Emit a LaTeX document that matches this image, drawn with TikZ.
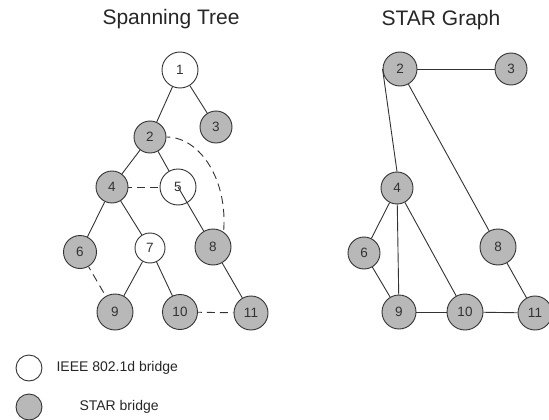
\documentclass[tikz,border=0pt]{standalone}
\usepackage{fontspec}
\setmainfont{Liberation Sans}
\begin{document}
\begin{tikzpicture}[x=1pt,y=-1pt,
  edge/.style={draw=black!80, line width=0.9pt},
  link/.style={edge, dash pattern=on 8pt off 5pt, dash phase=4pt},
  bridge/.style={circle, draw=black!80, line width=0.9pt, fill=white, inner sep=0pt,
    text=black!80, font=\fontsize{13.5}{13.5}\selectfont},
  star/.style={bridge, fill=starfill},
  title/.style={font=\fontsize{21}{21}\selectfont, text=black!85},
  legend/.style={font=\fontsize{14}{14}\selectfont, text=black!85, anchor=west}]
\definecolor{starfill}{RGB}{184,184,184}
\useasboundingbox (0,0) rectangle (549,420);

% titles
\node[title] (t1) at (171,19) {Spanning Tree};
\node[title] (t2) at (441,20) {STAR Graph};

% spanning tree
\node[bridge, minimum size=36pt] (1) at (180,70) {1};
\node[star, minimum size=32pt] (2) at (150,137) {2};
\node[star, minimum size=32pt] (3) at (216,127) {3};
\node[star, minimum size=32pt] (4) at (112,187) {4};
\node[bridge, minimum size=36pt] (5) at (178,187) {5};
\node[star, minimum size=33pt] (6) at (80,252) {6};
\node[bridge, minimum size=30pt] (7) at (150,248) {7};
\node[star, minimum size=36pt] (8) at (213,247) {8};
\node[star, minimum size=36pt] (9) at (115,312) {9};
\node[star, minimum size=35pt] (10) at (180,312) {10};
\node[star, minimum size=34pt] (11) at (251,313) {11};

\draw[edge] (1) -- (2);
\draw[edge] (1) -- (3);
\draw[edge] (2) -- (4);
\draw[edge] (2) -- (5);
\draw[edge] (4) -- (6);
\draw[edge] (4) -- (7);
\draw[edge] (7) -- (9);
\draw[edge] (7) -- (10);
\draw[edge] (8) -- (11);
\draw[edge] (5.center) -- (8);
\draw[link] (4) -- (5);
\draw[link] (6) -- (9);
\draw[link] (10) -- (11);
\draw[link] (2.east) .. controls (200,137) and (228,180) .. (8.55);

% STAR graph
\node[star, minimum size=34pt] (r2) at (400,69) {2};
\node[star, minimum size=32pt] (r3) at (511,69) {3};
\node[star, minimum size=32pt] (r4) at (397,188) {4};
\node[star, minimum size=36pt] (r8) at (498,247) {8};
\node[star, minimum size=32pt] (r6) at (364,253) {6};
\node[star, minimum size=34pt] (r9) at (399,312) {9};
\node[star, minimum size=36pt] (r10) at (465,312) {10};
\node[star, minimum size=34pt] (r11) at (535,313) {11};

\draw[edge] (r2) -- (r3);
\draw[edge] (r2.west) -- (r4.north);
\draw[edge] (r2) -- (r8);
\draw[edge] (r4) -- (r6);
\draw[edge] (r4) -- (r9);
\draw[edge] (r4) -- (r10);
\draw[edge] (r6) -- (r9);
\draw[edge] (r9) -- (r10);
\draw[edge] (r10) -- (r11);
\draw[edge] (r8) -- (r11);

% legend
\node[bridge, minimum size=26pt] (k1) at (29,368) {};
\node[star, minimum size=26pt] (k2) at (29,407) {};
\node[legend] (l1) at (53,368) {IEEE 802.1d bridge};
\node[legend] (l2) at (76,407) {STAR bridge};
\end{tikzpicture}
\end{document}
